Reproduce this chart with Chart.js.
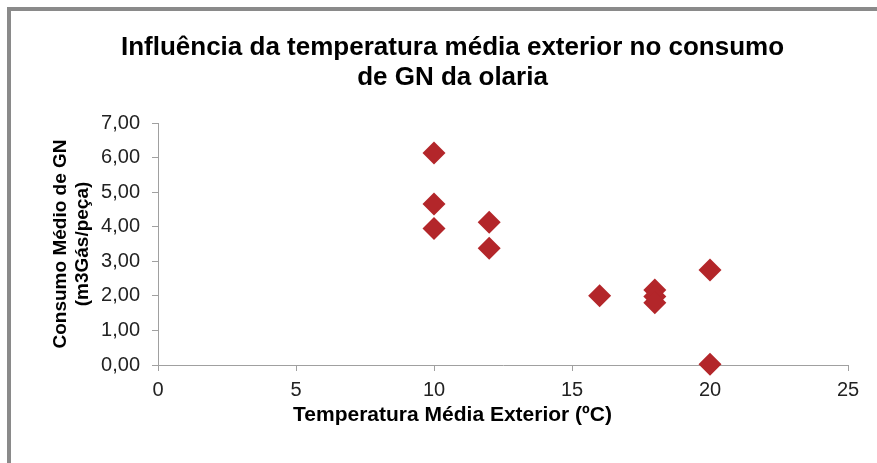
<!DOCTYPE html>
<html>
<head>
<meta charset="utf-8">
<script src="https://cdn.jsdelivr.net/npm/chart.js@4"></script>
<style>
  html, body { margin: 0; padding: 0; background: #ffffff; }
  #wrap { position: relative; width: 877px; height: 463px; overflow: hidden; }
  #frame { position: absolute; left: 7px; top: 7px; width: 880px; height: 470px;
           border-top: 4px solid #8a8a8a; border-left: 4px solid #8a8a8a; box-sizing: border-box; }
  #c { position: absolute; left: 0; top: 0; }
</style>
</head>
<body>
<div id="wrap">
  <div id="frame"></div>
  <canvas id="c" width="877" height="463"></canvas>
</div>
<script>
// ---- data ----
const temperatures = [10, 10, 10, 12, 12, 16, 18, 18, 18, 20, 20];
const consumption  = [6.13, 4.66, 3.95, 4.13, 3.38, 2.00, 2.17, 1.98, 1.80, 2.75, 0.02];
const yTickLabels  = ['0,00', '1,00', '2,00', '3,00', '4,00', '5,00', '6,00', '7,00'];
const xTickLabels  = ['0', '5', '10', '15', '20', '25'];
const titleLines   = ['Influência da temperatura média exterior no consumo', 'de GN da olaria'];
const yTitleLines  = ['Consumo Médio de GN', '(m3Gás/peça)'];
const xTitleText   = 'Temperatura Média Exterior (ºC)';

const points = temperatures.map((t, i) => ({ x: t, y: consumption[i] }));
const FONT = "'Liberation Sans', Arial, sans-serif";
const AXIS = '#a0a0a0';

new Chart(document.getElementById('c'), {
  type: 'scatter',
  data: {
    datasets: [{
      data: points,
      pointStyle: 'rectRot',
      pointRadius: 11.5,
      pointHoverRadius: 11.5,
      pointBackgroundColor: '#b3262a',
      pointBorderWidth: 0,
      clip: false
    }]
  },
  options: {
    responsive: false,
    animation: false,
    layout: { padding: { left: 57, right: 29, top: 0, bottom: 0 } },
    plugins: {
      legend: { display: false },
      tooltip: { enabled: false },
      title: {
        display: true,
        text: titleLines,
        color: '#000',
        font: { family: FONT, size: 26, weight: 'bold', lineHeight: '30px' },
        padding: { top: 33, bottom: 30 }
      },
      subtitle: {
        display: true,
        position: 'bottom',
        text: xTitleText,
        color: '#000',
        font: { family: FONT, size: 21, weight: 'bold', lineHeight: 1.2 },
        padding: { top: 0, bottom: 35 }
      }
    },
    scales: {
      x: {
        type: 'linear',
        min: 0, max: 25,
        afterFit: s => { s.height = 37.8; },
        ticks: {
          stepSize: 5,
          color: '#222',
          padding: 7,
          font: { family: FONT, size: 20 },
          callback: (v) => xTickLabels[Math.round(v / 5)]
        },
        grid: { drawOnChartArea: false, drawTicks: true, tickLength: 6, color: AXIS },
        border: { display: true, color: AXIS, width: 1 }
      },
      y: {
        type: 'linear',
        min: 0, max: 7,
        afterFit: s => { s.width = 101; },
        ticks: {
          stepSize: 1,
          color: '#222',
          padding: 12,
          font: { family: FONT, size: 20 },
          callback: (v) => yTickLabels[Math.round(v)]
        },
        grid: { drawOnChartArea: false, drawTicks: true, tickLength: 6, color: AXIS },
        border: { display: true, color: AXIS, width: 1 },
        title: {
          display: true,
          text: yTitleLines,
          color: '#000',
          font: { family: FONT, size: 19, weight: 'bold', lineHeight: '22px' },
          padding: { top: -7, bottom: 0 }
        }
      }
    }
  }
});
</script>
</body>
</html>
